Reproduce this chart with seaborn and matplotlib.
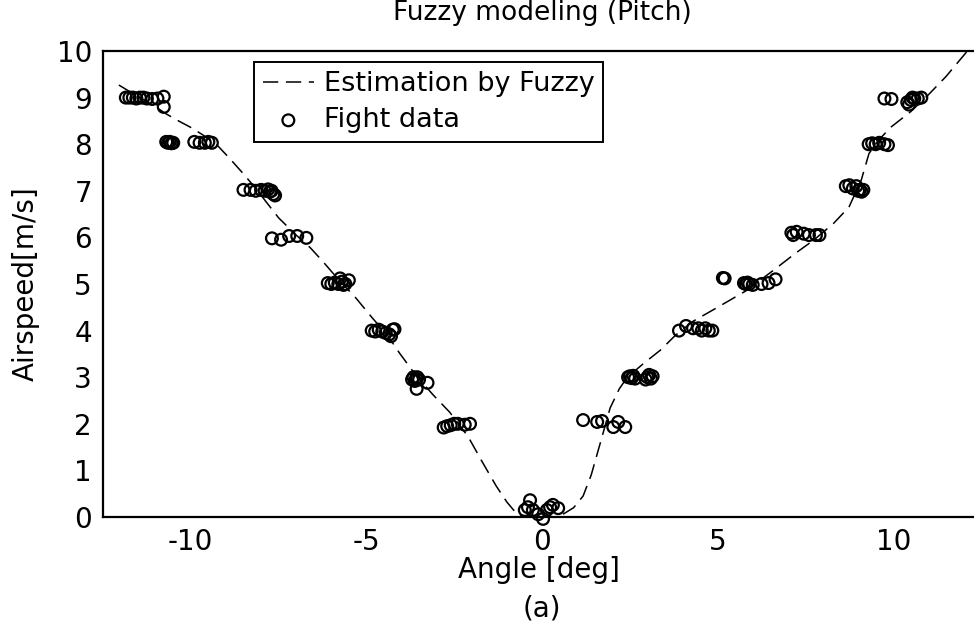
import numpy as np
import pandas as pd
import seaborn as sns
import matplotlib
matplotlib.use("Agg")
import matplotlib.pyplot as plt

sns.set_style("white")
plt.rcParams["font.family"] = ["DejaVu Sans"]
plt.rcParams["axes.unicode_minus"] = False
plt.rcParams["text.color"] = "black"
plt.rcParams["axes.labelcolor"] = "black"

## Fuzzy estimation curve
curve_angle = [-12.05, -11.5, -11.0, -10.7, -10.35, -10.0, -9.7, -9.3, -8.9, -8.45,
               -8.1, -7.5, -7.0, -6.6, -6.26, -5.8, -5.3, -4.83, -4.4, -4.06,
               -3.6, -3.1, -2.63, -2.1, -1.7, -1.3, -1.0, -0.71, -0.4, -0.1,
               0.2, 0.6, 0.9, 1.17, 1.4, 1.66, 1.94, 2.2, 2.43, 2.9,
               3.37, 3.8, 4.3, 5.0, 5.8, 6.6, 7.2, 7.75, 8.3, 8.74,
               9.09, 9.31, 9.6, 9.94, 10.5, 11.0, 11.5, 12.09, 12.4]
curve_speed = [9.27, 9.02, 8.8, 8.65, 8.5, 8.36, 8.22, 8.02, 7.7, 7.32,
               7.0, 6.42, 6.05, 5.78, 5.5, 5.1, 4.7, 4.27, 3.9, 3.52,
               3.05, 2.62, 2.25, 1.72, 1.18, 0.66, 0.32, 0.06, -0.06, -0.1,
               -0.08, 0.06, 0.2, 0.45, 0.9, 1.59, 2.34, 2.75, 3.0, 3.3,
               3.58, 3.9, 4.2, 4.5, 4.85, 5.3, 5.65, 5.95, 6.3, 6.65,
               7.23, 7.8, 8.1, 8.37, 8.7, 9.06, 9.45, 9.98, 10.3]

## Flight data, cluster by cluster (left branch, near zero, right branch)
left_angle = [-11.85, -11.75, -11.65, -11.55, -11.45, -11.35, -11.25, -11.1, -10.95, -10.77, -10.77,
              -10.7, -10.65, -10.6, -10.55, -10.5, -9.9, -9.75, -9.6, -9.5, -9.4,
              -8.5, -8.3, -8.15, -8.0, -7.9, -7.8, -7.75, -7.7, -7.65, -7.6,
              -7.69, -7.43, -7.2, -6.97, -6.71,
              -6.1, -6.0, -5.9, -5.8, -5.75, -5.7, -5.65, -5.6, -5.5,
              -4.85, -4.75, -4.65, -4.55, -4.45, -4.35, -4.3, -4.25, -4.2,
              -3.7, -3.66, -3.62, -3.58, -3.55, -3.5, -3.57, -3.26,
              -2.8, -2.7, -2.6, -2.5, -2.4, -2.2, -2.05]
left_speed = [9.0, 9.0, 9.0, 8.98, 9.0, 9.0, 8.98, 8.97, 8.98, 9.02, 8.8,
              8.05, 8.03, 8.05, 8.02, 8.03, 8.05, 8.03, 8.03, 8.05, 8.03,
              7.02, 7.02, 7.0, 7.02, 7.0, 7.03, 6.98, 7.0, 6.93, 6.9,
              5.98, 5.95, 6.03, 6.03, 5.99,
              5.02, 5.0, 5.03, 5.0, 5.12, 5.05, 4.98, 5.0, 5.08,
              4.0, 3.98, 4.02, 3.98, 3.95, 3.92, 3.88, 4.02, 4.03,
              2.95, 3.0, 2.92, 2.97, 3.0, 2.95, 2.75, 2.88,
              1.92, 1.95, 1.97, 2.0, 2.0, 1.98, 2.0]
zero_angle = [-0.34, -0.4, -0.49, -0.26, -0.11, 0.03, 0.14, 0.23, 0.31, 0.46]
zero_speed = [0.36, 0.21, 0.15, 0.15, 0.06, -0.04, 0.15, 0.21, 0.26, 0.19]
right_angle = [1.17, 1.57, 1.71, 2.03, 2.17, 2.37,
               2.45, 2.5, 2.55, 2.6, 2.65, 2.95, 3.0, 3.05, 3.1, 3.15,
               3.9, 4.1, 4.3, 4.45, 4.55, 4.65, 4.75, 4.85,
               5.15, 5.2, 5.75, 5.8, 5.85, 5.9, 6.0, 6.25, 6.45, 6.65,
               7.1, 7.15, 7.25, 7.45, 7.6, 7.8, 7.9,
               8.65, 8.75, 8.85, 8.95, 9.0, 9.05, 9.1, 9.15,
               9.3, 9.4, 9.5, 9.6, 9.75, 9.85,
               9.75, 9.95, 10.4, 10.45, 10.5, 10.55, 10.6, 10.7, 10.8]
right_speed = [2.08, 2.04, 2.06, 1.93, 2.04, 1.93,
               3.0, 3.02, 2.98, 3.03, 2.97, 2.95, 3.0, 3.05, 2.97, 3.02,
               4.0, 4.1, 4.05, 4.05, 4.0, 4.05, 4.0, 4.0,
               5.13, 5.12, 5.02, 5.0, 5.03, 5.0, 4.98, 5.0, 5.02, 5.1,
               6.1, 6.05, 6.12, 6.08, 6.05, 6.05, 6.05,
               7.1, 7.12, 7.05, 7.1, 7.0, 7.02, 6.98, 7.02,
               8.0, 8.02, 8.0, 8.03, 8.0, 7.98,
               8.98, 8.97, 8.9, 8.85, 8.95, 9.0, 8.98, 8.98, 9.0]

df_curve = pd.DataFrame({"angle": curve_angle, "speed": curve_speed})
df_data = pd.DataFrame({
    "angle": left_angle + zero_angle + right_angle,
    "speed": left_speed + zero_speed + right_speed,
})

fig = plt.figure(figsize=(9.74, 6.3), dpi=100)
ax = fig.add_axes([103 / 974, 1 - 517 / 630, 871 / 974, 466 / 630])

sns.lineplot(ax=ax, data=df_curve, x="angle", y="speed", color="black",
             linewidth=1.1, linestyle=(0, (10, 5)), label="Estimation by Fuzzy")
sns.scatterplot(ax=ax, data=df_data, x="angle", y="speed", marker="o",
                facecolor="none", edgecolor="black", s=72, linewidth=1.6,
                clip_on=False, label="Fight data", zorder=3)

ax.set_xlim(-12.5, 12.3)
ax.set_ylim(0, 10)
ax.set_xticks([-10, -5, 0, 5, 10])
ax.set_yticks(range(0, 11))
ax.tick_params(direction="in", length=8, width=1.3, labelsize=20, pad=8,
               colors="black")
for side in ["left", "bottom", "top"]:
    ax.spines[side].set_linewidth(1.6)
    ax.spines[side].set_color("black")
ax.spines["right"].set_visible(False)

ax.set_xlabel("Angle [deg]", fontsize=20, labelpad=0)
ax.set_ylabel("Airspeed[m/s]", fontsize=20, labelpad=12)
fig.text(542 / 974, 1 - 13 / 630, "Fuzzy modeling (Pitch)", fontsize=19,
         ha="center", va="center")
fig.text(542 / 974, 1 - 608 / 630, "(a)", fontsize=20, ha="center", va="center")

ax.legend(loc="upper left", bbox_to_anchor=(0.173, 0.976), fontsize=19.5,
          frameon=True, fancybox=False, edgecolor="black", framealpha=1,
          handlelength=1.9, handletextpad=0.35, labelspacing=0.38,
          borderpad=0.33, borderaxespad=0)
ax.get_legend().get_frame().set_linewidth(1.4)

fig.savefig("out.png", dpi=100)
